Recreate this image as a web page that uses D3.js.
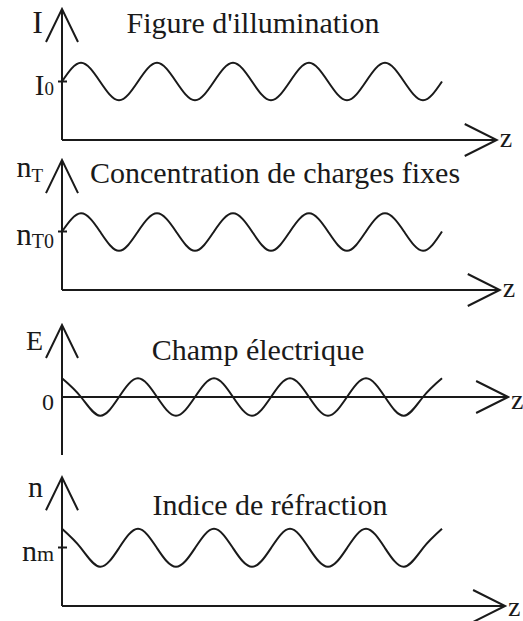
<!DOCTYPE html>
<meta charset="utf-8">
<script src="https://cdn.jsdelivr.net/npm/d3@7"></script>
<style>
  body { margin: 0; background: #fff; }
  text { font-family: "Liberation Serif", "Times New Roman", serif; fill: #1a1a1a; }
</style>
<div id="my_dataviz"></div>
<script>

// z positions of the read points, in grating periods
var zPoints = [0, 0.25, 0.5, 0.75, 1, 1.25, 1.5, 1.75, 2, 2.25, 2.5,
               2.75, 3, 3.25, 3.5, 3.75, 4, 4.25, 4.5, 4.75, 5];

// curve values (unit = I0, nT0, nm)
var illumination = [1, 1.32, 1, 0.68, 1, 1.32, 1, 0.68, 1, 1.32, 1,
                    0.68, 1, 1.32, 1, 0.68, 1, 1.32, 1, 0.68, 1];
var charges = [1, 1.31, 1, 0.67, 1, 1.31, 1, 0.67, 1, 1.31, 1,
               0.67, 1, 1.31, 1, 0.67, 1, 1.31, 1, 0.67, 1];
var field = [0.32, 0, -0.32, 0, 0.32, 0, -0.32, 0, 0.32, 0, -0.32,
             0, 0.32, 0, -0.32, 0, 0.32, 0, -0.32, 0, 0.32];
var refraction = [1.32, 0.99, 0.67, 0.99, 1.32, 0.99, 0.67, 0.99, 1.32, 0.99, 0.67,
                  0.99, 1.32, 0.99, 0.67, 0.99, 1.32, 0.99, 0.67, 0.99, 1.32];

var titles = ["Figure d'illumination", "Concentration de charges fixes",
              "Champ électrique", "Indice de réfraction"];
var axisNames = [["I", ""], ["n", "T"], ["E", ""], ["n", ""]];
var refNames = [["I", "0"], ["n", "T0"], ["0", ""], ["n", "m"]];
var refLevels = [1, 1, 0, 1];
var zMax = [5.72, 5.76, 5.87, 5.83];
var yTop = [2.24, 2.22, 1.23, 2.2];
var yBottom = [0, 0, -0.99, 0];

var series = [illumination, charges, field, refraction];

// layout
var width = 523, height = 621;
var panelBase = [140, 290, 397, 606];
var titleX = [253, 275, 258, 270];
var titleY = [-107, -107, -37, -91];
var nameY = [-107, -113, -47, -109];
var nameSize = [32, 30, 28, 30];
var refSub = [{size: 19, dy: 0}, {size: 20, dy: 3}, {size: 0, dy: 0}, {size: 22, dy: 0}];
var refSize = [29, 31, 24, 30];
var zLabelDy = [7, 7, 12, 10];

var svg = d3.select("#my_dataviz")
  .append("svg")
    .attr("width", width)
    .attr("height", height);

var x = d3.scaleLinear().domain([0, 5]).range([62, 442]);
var y = d3.scaleLinear().domain([0, 1]).range([0, -58.5]);

var line = d3.line()
  .x(function(d) { return x(d[0]); })
  .y(function(d) { return y(d[1]); })
  .curve(d3.curveNatural);

series.forEach(function(values, i) {
  var g = svg.append("g")
    .attr("transform", "translate(0," + panelBase[i] + ")");

  var x0 = x(0), xEnd = x(zMax[i]), yEnd = y(yTop[i]);

  // vertical axis + open arrow
  g.append("line")
    .attr("x1", x0).attr("x2", x0)
    .attr("y1", y(yBottom[i])).attr("y2", yEnd)
    .attr("stroke", "#1a1a1a").attr("stroke-width", 2);
  g.append("path")
    .attr("d", "M" + (x0 - 16) + "," + (yEnd + 33) + "L" + x0 + "," + yEnd + "L" + (x0 + 16) + "," + (yEnd + 33))
    .attr("fill", "none").attr("stroke", "#1a1a1a").attr("stroke-width", 2);

  // horizontal axis + open arrow
  g.append("line")
    .attr("x1", x0).attr("x2", xEnd)
    .attr("y1", y(0)).attr("y2", y(0))
    .attr("stroke", "#1a1a1a").attr("stroke-width", 2);
  g.append("path")
    .attr("d", "M" + (xEnd - 32) + "," + (y(0) - 16) + "L" + xEnd + "," + y(0) + "L" + (xEnd - 32) + "," + (y(0) + 16))
    .attr("fill", "none").attr("stroke", "#1a1a1a").attr("stroke-width", 2);

  g.append("text")
    .attr("x", xEnd + 3).attr("y", y(0) + zLabelDy[i])
    .attr("font-size", 28)
    .text("z");

  // reference tick
  if (refLevels[i] !== 0) {
    g.append("line")
      .attr("x1", x0 - 4).attr("x2", x0 + 5)
      .attr("y1", y(refLevels[i])).attr("y2", y(refLevels[i]))
      .attr("stroke", "#1a1a1a").attr("stroke-width", 2);
  }

  // curve
  g.append("path")
    .datum(zPoints.map(function(z, k) { return [z, values[k]]; }))
    .attr("d", line)
    .attr("fill", "none")
    .attr("stroke", "#1a1a1a")
    .attr("stroke-width", 2);

  // title
  g.append("text")
    .attr("x", titleX[i]).attr("y", titleY[i])
    .attr("text-anchor", "middle")
    .attr("font-size", 30)
    .text(titles[i]);

  // axis name
  var nm = g.append("text")
    .attr("x", 43).attr("y", nameY[i])
    .attr("text-anchor", "end")
    .attr("font-size", nameSize[i]);
  nm.append("tspan").text(axisNames[i][0]);
  if (axisNames[i][1]) {
    nm.append("tspan").attr("font-size", 19).attr("dy", 5).text(axisNames[i][1]);
  }

  // reference level label
  var rl = g.append("text")
    .attr("x", 54).attr("y", y(refLevels[i]) + 13)
    .attr("text-anchor", "end")
    .attr("font-size", refSize[i]);
  rl.append("tspan").text(refNames[i][0]);
  if (refNames[i][1]) {
    rl.append("tspan").attr("font-size", refSub[i].size).attr("dy", refSub[i].dy).text(refNames[i][1]);
  }
});

</script>
